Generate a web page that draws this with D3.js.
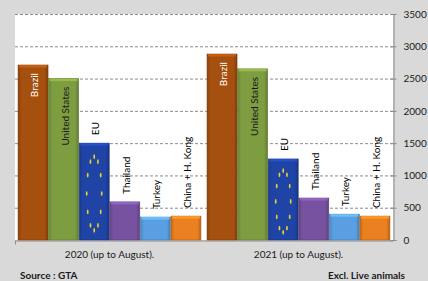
<!DOCTYPE html>
<html>
<head>
<meta charset="utf-8">
<script src="https://cdn.jsdelivr.net/npm/d3@7"></script>
<style>
  body { margin: 0; background: #d9d9d9; }
  svg { display: block; font-family: Lato, "Open Sans", sans-serif; }
</style>
</head>
<body>
<svg id="chart" width="428" height="281"></svg>
<script>
var years = ['2020 (up to August).', '2021 (up to August).'];
var countries = ['Brazil', 'United States', 'EU', 'Thailand', 'Turkey', 'China + H. Kong'];
var values2020 = [2710, 2500, 1500, 590, 355, 370];
var values2021 = [2880, 2650, 1255, 650, 400, 370];
var yTicks = [0, 500, 1000, 1500, 2000, 2500, 3000, 3500];

var colors = ['#a5500e', '#7e9d40', '#1f44a6', '#7752a0', '#5a9fe2', '#ea8020'];
var labelColors = ['#ffffff', '#1a1a1a', '#000', '#000', '#000', '#000'];
var insideLabels = new Set(['Brazil', 'United States']);

var rows = [values2020, values2021];

var svg = d3.select('#chart');
var plot = {left: 15, right: 393, top: 14, bottom: 240};

var x0 = d3.scaleBand().domain(years).range([plot.left, plot.right]);
var x1 = d3.scaleBand().domain(countries).range([0, x0.bandwidth()])
  .paddingInner(0.02).paddingOuter(0.1);
var y = d3.scaleLinear().domain([0, 3500]).range([plot.bottom, plot.top]);

// plot background
svg.append('rect')
  .attr('x', plot.left).attr('y', plot.top)
  .attr('width', plot.right - plot.left).attr('height', plot.bottom - plot.top)
  .attr('fill', '#fff');

// gridlines
svg.append('g').selectAll('line')
  .data(yTicks.filter(function(d){ return d > 0; }))
  .enter().append('line')
  .attr('x1', plot.left).attr('x2', plot.right)
  .attr('y1', function(d){ return y(d) + 0.5; })
  .attr('y2', function(d){ return y(d) + 0.5; })
  .attr('stroke', '#8c8c8c')
  .attr('stroke-dasharray', '3,2');

// right axis
var yAxis = d3.axisRight(y).tickValues(yTicks).tickFormat(d3.format('d'))
  .tickSize(3).tickPadding(7);
var ga = svg.append('g')
  .attr('transform', 'translate(' + (plot.right + 0.5) + ',0)')
  .call(yAxis);
ga.select('.domain').attr('stroke', '#8c8c8c');
ga.selectAll('.tick line').attr('stroke', '#8c8c8c').attr('x1', -3);
ga.selectAll('.tick text').attr('fill', '#1a1a1a').attr('font-size', 10)
  .attr('font-family', 'Lato, sans-serif');

// bottom axis
var gx = svg.append('g')
  .attr('transform', 'translate(0,' + (plot.bottom + 0.5) + ')')
  .call(d3.axisBottom(x0).tickSize(0).tickPadding(10));
gx.select('.domain').attr('stroke', '#8c8c8c');
gx.selectAll('.tick text').attr('fill', '#1a1a1a').attr('font-size', 10)
  .attr('font-family', 'Lato, sans-serif');
gx.append('line')
  .attr('x1', plot.left + 0.5).attr('x2', plot.left + 0.5)
  .attr('y1', 0).attr('y2', 4).attr('stroke', '#8c8c8c');

// gradients
var defs = svg.append('defs');
colors.forEach(function(c, i) {
  var g = defs.append('linearGradient').attr('id', 'grad' + i)
    .attr('x1', 0).attr('x2', 1).attr('y1', 0).attr('y2', 0);
  g.append('stop').attr('offset', '0%').attr('stop-color', d3.color(c).darker(0.5));
  g.append('stop').attr('offset', '12%').attr('stop-color', c);
  g.append('stop').attr('offset', '88%').attr('stop-color', c);
  g.append('stop').attr('offset', '100%').attr('stop-color', d3.color(c).darker(0.7));
});

var groups = svg.append('g').selectAll('g')
  .data(years)
  .enter().append('g')
  .attr('transform', function(d){ return 'translate(' + x0(d) + ',0)'; });

groups.each(function(yr, yi) {
  var g = d3.select(this);
  var data = countries.map(function(c, i){ return {name: c, value: rows[yi][i], i: i}; });

  var bars = g.selectAll('g.bar').data(data).enter().append('g').attr('class', 'bar');

  bars.append('rect')
    .attr('x', function(d){ return x1(d.name); })
    .attr('y', function(d){ return y(d.value); })
    .attr('width', x1.bandwidth())
    .attr('height', function(d){ return y(0) - y(d.value); })
    .attr('fill', function(d){ return 'url(#grad' + d.i + ')'; })
    .attr('stroke', function(d){ return d3.color(colors[d.i]).darker(0.8); })
    .attr('stroke-width', 0.6);

  // top bevel
  bars.append('rect')
    .attr('x', function(d){ return x1(d.name) + 1; })
    .attr('y', function(d){ return y(d.value); })
    .attr('width', x1.bandwidth() - 2)
    .attr('height', 2.5)
    .attr('fill', function(d){ return d3.color(colors[d.i]).brighter(0.6); })
    .attr('opacity', 0.85);

  // EU stars
  var eu = data[2];
  var cx = x1(eu.name) + x1.bandwidth() / 2;
  var top = y(eu.value);
  var cy = (top + y(0)) / 2 + 2;
  var rx = x1.bandwidth() * 0.25;
  var ry = (y(0) - top) * 0.38;
  g.selectAll('ellipse.star').data(d3.range(12)).enter().append('ellipse')
    .attr('class', 'star')
    .attr('cx', function(k){ return cx + rx * Math.sin(k * Math.PI / 6); })
    .attr('cy', function(k){ return cy - ry * Math.cos(k * Math.PI / 6); })
    .attr('rx', 0.9).attr('ry', 2.4)
    .attr('fill', '#e8d030');

  // labels
  bars.append('text')
    .attr('transform', function(d){
      var inside = insideLabels.has(d.name);
      var ty = inside ? y(d.value) + 8 : y(d.value) - 8;
      return 'translate(' + (x1(d.name) + x1.bandwidth() / 2 + 1) + ',' + ty + ') rotate(-90)';
    })
    .attr('text-anchor', function(d){ return insideLabels.has(d.name) ? 'end' : 'start'; })
    .attr('dominant-baseline', 'central')
    .attr('font-size', 10)
    .attr('fill', function(d){ return labelColors[d.i]; })
    .text(function(d){ return d.name; });
});

svg.append('text').attr('x', 20).attr('y', 279).attr('font-size', 10)
  .attr('font-weight', 'bold').attr('fill', '#1a1a1a').text('Source : GTA');
svg.append('text').attr('x', 405).attr('y', 279).attr('font-size', 10)
  .attr('text-anchor', 'end')
  .attr('font-weight', 'bold').attr('fill', '#1a1a1a').text('Excl. Live animals');
</script>
</body>
</html>
